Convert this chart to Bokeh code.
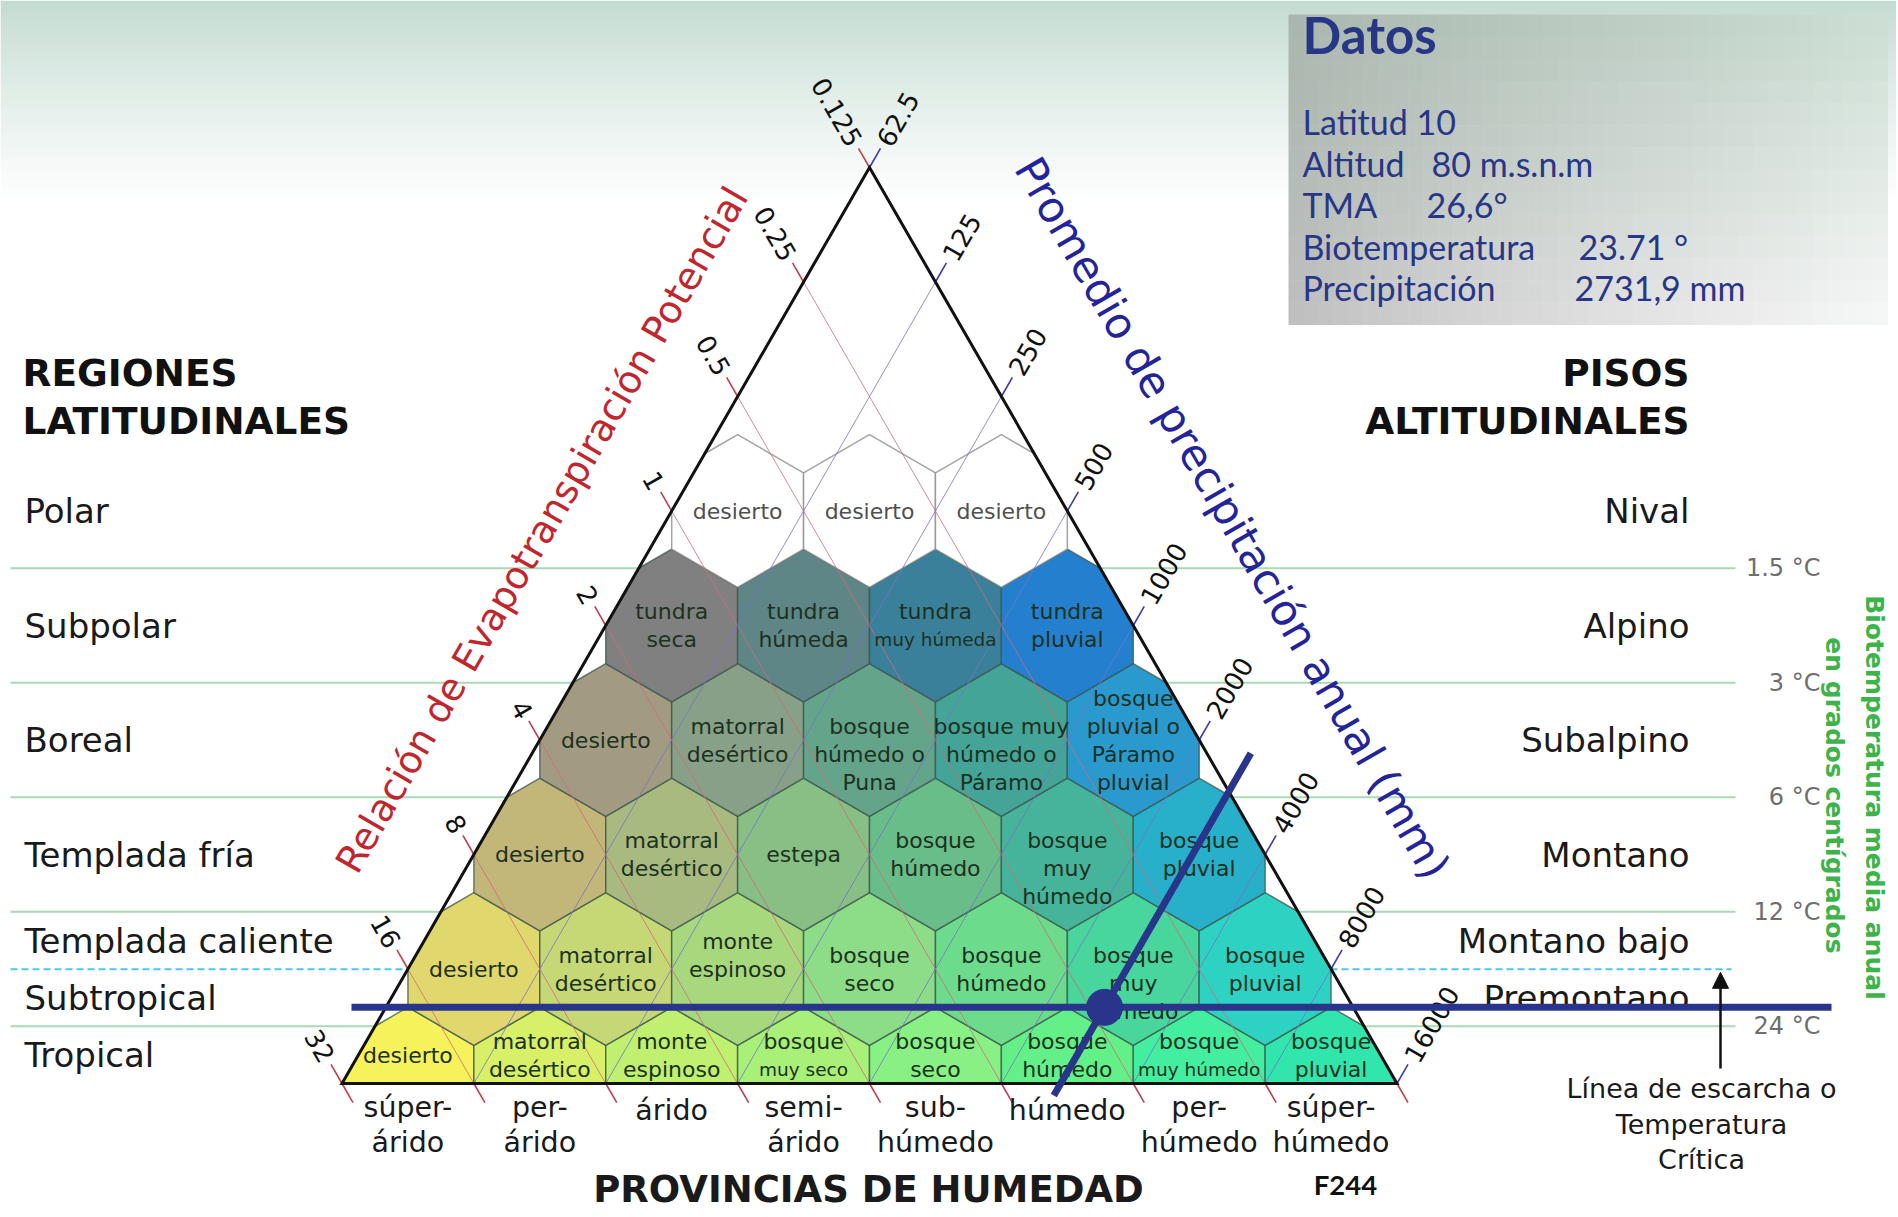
import math
from bokeh.plotting import figure
from bokeh.models import ColumnDataSource, Range1d, Arrow, NormalHead
from bokeh.core.properties import value
from bokeh.embed import file_html
from bokeh.resources import INLINE

# ------------------------------------------------------------------ DATA
precipitacion_ticks = [62.5, 125, 250, 500, 1000, 2000, 4000, 8000, 16000]
precipitacion_etiquetas = ["62.5", "125", "250", "500", "1000", "2000", "4000", "8000", "16000"]
etp_ticks = [0.125, 0.25, 0.5, 1, 2, 4, 8, 16, 32]
etp_etiquetas = ["0.125", "0.25", "0.5", "1", "2", "4", "8", "16", "32"]
biotemp_lineas = [1.5, 3, 6, 12, 24]
biotemp_etiquetas = ["1.5 °C", "3 °C", "6 °C", "12 °C", "24 °C"]
temp_critica = 17.0

provincias = ["súper-\nárido", "per-\nárido", "árido", "semi-\nárido",
              "sub-\nhúmedo", "húmedo", "per-\nhúmedo", "súper-\nhúmedo"]

regiones = ["Polar", "Subpolar", "Boreal", "Templada fría",
            "Templada caliente", "Subtropical", "Tropical"]
pisos = ["Nival", "Alpino", "Subalpino", "Montano", "Montano bajo", "Premontano", ""]
limites_bandas = [0.75, 1.5, 3, 6, 12, 17, 24, 34]

# zonas de vida, de la fila inferior (tropical) a la superior (polar)
zonas_tropical = ["desierto", "matorral\ndesértico", "monte\nespinoso", "bosque\nmuy seco",
                  "bosque\nseco", "bosque\nhúmedo", "bosque\nmuy húmedo", "bosque\npluvial"]
colores_tropical = ["#f6f25c", "#d8f068", "#bff070", "#a8f078", "#88f084", "#64f088", "#44eea0", "#30e6ac"]
zonas_subtropical = ["desierto", "matorral\ndesértico", "monte\nespinoso", "bosque\nseco",
                     "bosque\nhúmedo", "bosque\nmuy\nhúmedo", "bosque\npluvial"]
colores_subtropical = ["#e0d86c", "#c6d876", "#a8d87e", "#8cdc88", "#6cdc8c", "#48d69c", "#2ed2c2"]
zonas_templada = ["desierto", "matorral\ndesértico", "estepa", "bosque\nhúmedo",
                  "bosque\nmuy\nhúmedo", "bosque\npluvial"]
colores_templada = ["#c2b678", "#a8ba80", "#88bf84", "#68bd88", "#46b49a", "#28b0ca"]
zonas_boreal = ["desierto", "matorral\ndesértico", "bosque\nhúmedo o\nPuna",
                "bosque muy\nhúmedo o\nPáramo", "bosque\npluvial o\nPáramo\npluvial"]
colores_boreal = ["#a29b82", "#88a088", "#64a48a", "#44a498", "#2a9ace"]
zonas_subpolar = ["tundra\nseca", "tundra\nhúmeda", "tundra\nmuy húmeda", "tundra\npluvial"]
colores_subpolar = ["#808080", "#5e8686", "#3a809a", "#2480ce"]
zonas_polar = ["desierto", "desierto", "desierto"]
colores_polar = ["#ffffff", "#ffffff", "#ffffff"]

filas = [(zonas_tropical, colores_tropical), (zonas_subtropical, colores_subtropical),
         (zonas_templada, colores_templada), (zonas_boreal, colores_boreal),
         (zonas_subpolar, colores_subpolar), (zonas_polar, colores_polar)]

datos_titulo = "Datos"
datos_etiquetas = ["Latitud 10", "Altitud", "TMA", "Biotemperatura", "Precipitación"]
datos_valores = ["", "80 m.s.n.m", "26,6°", "23.71 °", "2731,9 mm"]

punto_precipitacion = 2731.9
punto_biotemperatura = 21.4   # posición del trazo horizontal

# ------------------------------------------------------------------ GEOMETRY
W_FIG, H_FIG = 1896, 1215
H_PAGE = 1217
APEX_X, APEX_Y = 869.0, 1050.0
UX = 131.875          # horizontal size of one log2 unit
UY = 114.5            # vertical size of one log2 unit
P0, R0 = 62.5, 0.125
PET_FACTOR = 58.93


def Y(ypix):
    return H_PAGE - ypix


def pos(P, R):
    a = math.log2(P / P0)
    b = math.log2(R / R0)
    return APEX_X + (a - b) * UX / 2.0, APEX_Y - (a + b) * UY


def y_T(T):
    s = math.log2(PET_FACTOR * T / (P0 * R0))
    return APEX_Y - s * UY


def pos_PT(P, T):
    a = math.log2(P / P0)
    s = math.log2(PET_FACTOR * T / (P0 * R0))
    return APEX_X + (2 * a - s) * UX / 2.0, APEX_Y - s * UY


BL = pos(P0, etp_ticks[-1])
BR = pos(precipitacion_ticks[-1], R0)
AP = pos(P0, R0)
TRI = [BL, BR, AP]


def clip(poly, tri):
    out = list(poly)
    for i in range(3):
        A = tri[i]
        B = tri[(i + 1) % 3]
        inp = out
        out = []
        if not inp:
            break

        def inside(p):
            return (B[0] - A[0]) * (p[1] - A[1]) - (B[1] - A[1]) * (p[0] - A[0]) >= -1e-9

        def inter(p, q):
            x1, y1 = p
            x2, y2 = q
            x3, y3 = A
            x4, y4 = B
            den = (x1 - x2) * (y3 - y4) - (y1 - y2) * (x3 - x4)
            t = ((x1 - x3) * (y3 - y4) - (y1 - y3) * (x3 - x4)) / den
            return (x1 + t * (x2 - x1), y1 + t * (y2 - y1))

        for k in range(len(inp)):
            cur = inp[k]
            prev = inp[k - 1]
            if inside(cur):
                if not inside(prev):
                    out.append(inter(prev, cur))
                out.append(cur)
            elif inside(prev):
                out.append(inter(prev, cur))
    return out


def hexcol(c):
    c = c.lstrip("#")
    return [int(c[i:i + 2], 16) for i in (0, 2, 4)]


def mix(c1, c2, t):
    a, b = hexcol(c1), hexcol(c2)
    return "#%02x%02x%02x" % tuple(int(round(a[i] + (b[i] - a[i]) * t)) for i in range(3))


# ------------------------------------------------------------------ FIGURE
p = figure(width=W_FIG, height=H_FIG, output_backend="svg", toolbar_location=None,
           x_range=Range1d(0, W_FIG), y_range=Range1d(Y(H_FIG), Y(0)),
           x_axis_type=None, y_axis_type=None, min_border=0)
p.grid.visible = False
p.outline_line_color = None
p.background_fill_color = "white"
p.border_fill_color = "white"

DV = value("DejaVu Sans")
LATO = value("Lato")


def txt(xs, ys, texts, size, color, font=DV, align="left", baseline="middle",
        angle=0.0, style="normal", alpha=1.0):
    n_ = len(texts)
    cols = color if isinstance(color, list) else [color] * n_
    sizes = size if isinstance(size, list) else [size] * n_
    src = ColumnDataSource(dict(x=xs, y=ys, t=texts, c=cols, s=sizes))
    p.text(x="x", y="y", text="t", source=src, text_font=font, text_font_size="s",
           text_color="c", text_align=align, text_baseline=baseline, angle=angle,
           text_font_style=style, text_alpha=alpha)


# background gradient at the top
n = 50
gl, gr, gt, gb, gc = [], [], [], [], []
for i in range(n):
    y0 = i * 200.0 / n
    y1 = (i + 1) * 200.0 / n
    gl.append(0)
    gr.append(W_FIG)
    gt.append(Y(y0))
    gb.append(Y(y1) - 0.5)
    t = (i + 0.5) / n
    gc.append(mix("#c3dbd1", "#ffffff", t ** 0.9))
p.quad(left=gl, right=gr, top=gt, bottom=gb, fill_color=gc, line_color=None)

# Datos box (bilinear gradient)
bx0, bx1, by0, by1 = 1288, 1887, 14, 324
nx, ny = 40, 14
ql, qr, qt, qb, qc = [], [], [], [], []
for i in range(nx):
    for j in range(ny):
        u = (i + 0.5) / nx
        v = (j + 0.5) / ny
        top = mix("#a9b7ae", "#cbddd3", u)
        bot = mix("#bdbdbd", "#f8f8f8", u ** 0.8)
        qc.append(mix(top, bot, v))
        ql.append(bx0 + (bx1 - bx0) * i / nx)
        qr.append(bx0 + (bx1 - bx0) * (i + 1) / nx + 0.5)
        qt.append(Y(by0 + (by1 - by0) * j / ny))
        qb.append(Y(by0 + (by1 - by0) * (j + 1) / ny + 0.5))
p.quad(left=ql, right=qr, top=qt, bottom=qb, fill_color=qc, line_color=None)

NAVY_T = "#283686"
txt([1302], [Y(34)], [datos_titulo], "51px", NAVY_T, font=LATO, style="bold")
dy = [Y(121 + 41.5 * i) for i in range(len(datos_etiquetas))]
txt([1302] * len(datos_etiquetas), dy, datos_etiquetas, "34px", NAVY_T, font=LATO)
vx = [1302, 1431, 1426, 1578, 1574]
txt(vx[1:], dy[1:], datos_valores[1:], "34px", NAVY_T, font=LATO)

# biotemperature guide lines
ly = [y_T(t) for t in biotemp_lineas]
p.segment(x0=[10] * len(ly), y0=ly, x1=[1735] * len(ly), y1=ly, line_color="#a9d9b5", line_width=2)
txt([1820] * len(ly), ly, biotemp_etiquetas, "24px", "#6e6e6e", align="right")
yc = y_T(temp_critica)
p.segment(x0=[10], y0=[yc], x1=[1731], y1=[yc], line_color="#52c4ee", line_width=2, line_dash="7 4")

# triangle background
p.patch(x=[q[0] for q in TRI], y=[q[1] for q in TRI], fill_color="white", line_color=None)

# hexagons
hs = UY / 1.5
hw = UX / 2.0
hxs, hys, hfc, hlc = [], [], [], []
lab_x, lab_y, lab_t, lab_c, lab_s = [], [], [], [], []
LH = 28.0
for r, (zonas, cols) in enumerate(filas):
    for j, (z, c) in enumerate(zip(zonas, cols)):
        cx, cy = pos(P0 * 2 ** (j + 0.5), R0 * 2 ** (7.5 - r - j))
        verts = [(cx, cy + hs), (cx + hw, cy + hs / 2), (cx + hw, cy - hs / 2),
                 (cx, cy - hs), (cx - hw, cy - hs / 2), (cx - hw, cy + hs / 2)]
        poly = clip(verts, TRI)
        hxs.append([q[0] for q in poly])
        hys.append([q[1] for q in poly])
        hfc.append(c)
        hlc.append("#858585" if r == 5 else "#3b564c")
        lines = z.split("\n")
        nl = len(lines)
        if r == 0:
            base = cy + 28 + (nl - 1) / 2.0 * LH
        elif z == "monte\nespinoso":
            base = cy + LH
        elif nl == 1:
            base = cy
        elif nl in (2, 3):
            base = cy + 0.5 * LH
        else:
            base = cy + 1.5 * LH
        for k, ln in enumerate(lines):
            lab_x.append(cx)
            lab_y.append(base - k * LH)
            lab_t.append(ln)
            lab_c.append("#505050" if r == 5 else "#1d3121")
            lab_s.append("18.5px" if ln.startswith("muy ") else "22px")
p.patches(xs=hxs, ys=hys, fill_color=hfc, line_color=hlc, line_width=1.5, line_alpha=0.75)

# PET ratio lines (red) and precipitation lines (blue)
TICK = 22.0
ul = (-0.5, 0.866)   # up-left
dr = (0.5, -0.866)   # down-right
ur = (0.5, 0.866)    # up-right
rx0, ry0, rx1, ry1 = [], [], [], []
tx0, ty0, tx1, ty1 = [], [], [], []
lx, lyy = [], []
for R in etp_ticks:
    sx, sy = pos(P0, R)
    b = math.log2(R / R0)
    ex, ey = pos(P0 * 2 ** (8 - b), R)
    rx0.append(sx); ry0.append(sy); rx1.append(ex); ry1.append(ey)
    tx0 += [sx + TICK * ul[0], ex]
    ty0 += [sy + TICK * ul[1], ey]
    tx1 += [sx, ex + TICK * dr[0]]
    ty1 += [sy, ey + TICK * dr[1]]
    lx.append(sx + 27 * ul[0])
    lyy.append(sy + 27 * ul[1])
p.segment(x0=rx0, y0=ry0, x1=rx1, y1=ry1, line_color="#cf6b78", line_width=1, line_alpha=0.8)
p.segment(x0=tx0, y0=ty0, x1=tx1, y1=ty1, line_color="#c0404f", line_width=1.6)

bx0s, by0s, bx1s, by1s = [], [], [], []
btx0, bty0, btx1, bty1 = [], [], [], []
rlx, rly = [], []
for P in precipitacion_ticks:
    sx, sy = pos(P, R0)
    a = math.log2(P / P0)
    ex, ey = pos(P, R0 * 2 ** (8 - a))
    bx0s.append(sx); by0s.append(sy); bx1s.append(ex); by1s.append(ey)
    btx0.append(sx); bty0.append(sy)
    btx1.append(sx + TICK * ur[0]); bty1.append(sy + TICK * ur[1])
    rlx.append(sx + 27 * ur[0])
    rly.append(sy + 27 * ur[1])
p.segment(x0=bx0s, y0=by0s, x1=bx1s, y1=by1s, line_color="#7474c8", line_width=1, line_alpha=0.8)
p.segment(x0=btx0, y0=bty0, x1=btx1, y1=bty1, line_color="#3a3ab4", line_width=1.6)

# triangle outline
p.patch(x=[q[0] for q in TRI], y=[q[1] for q in TRI], fill_color=None, line_color="#111111",
        line_width=3, line_join="miter")

# hex labels
txt(lab_x, lab_y, lab_t, lab_s, lab_c, align="center")

# tick labels
txt(lx, lyy, etp_etiquetas, "26px", "#111111", align="right", angle=-math.pi / 3)
txt(rlx, rly, precipitacion_etiquetas, "26px", "#111111", align="left", angle=math.pi / 3)

# axis titles
txt([541.5], [Y(529.5)], ["Relación de Evapotranspiración Potencial"], "38px", "#c1262f",
    align="center", angle=math.pi / 3)
txt([1232], [Y(517.5)], ["Promedio de precipitación anual (mm)"], "43px", "#23239a",
    align="center", angle=-math.pi / 3)

# humidity provinces
px_, py_, pt_ = [], [], []
for j, pr in enumerate(provincias):
    cx, _ = pos(P0 * 2 ** (j + 0.5), R0 * 2 ** (7.5 - j))
    parts = pr.split("\n")
    for k, ln in enumerate(parts):
        px_.append(cx)
        py_.append(Y(1110) if len(parts) == 1 else Y(1107 + 35 * k))
        pt_.append(ln)
txt(px_, py_, pt_, "28.5px", "#1a1a1a", align="center")
txt([868], [Y(1189)], ["PROVINCIAS DE HUMEDAD"], "37px", "#1a1a1a", align="center", style="bold")
txt([1345], [Y(1184)], ["F244"], "27.5px", "#111111", font=LATO, align="center", style="bold")

# latitudinal regions and altitudinal belts
ry = [y_T(math.sqrt(limites_bandas[i] * limites_bandas[i + 1])) for i in range(len(regiones))]
txt([24] * len(regiones), ry, regiones, "34px", "#1a1a1a")
txt([1689] * len(pisos), ry, pisos, "34px", "#1a1a1a", align="right")
txt([22, 22], [Y(372), Y(420)], ["REGIONES", "LATITUDINALES"], "37.5px", "#111111", style="bold")
txt([1689, 1689], [Y(372), Y(420)], ["PISOS", "ALTITUDINALES"], "37.5px", "#111111",
    align="right", style="bold")

# biotemperature axis title (vertical)
txt([1874], [Y(797)], ["Biotemperatura media anual"], "25px", "#3cb44b", align="center",
    angle=-math.pi / 2, style="bold")
txt([1834], [Y(795)], ["en grados centígrados"], "25px", "#3cb44b", align="center",
    angle=-math.pi / 2, style="bold")

# frost line arrow
p.add_layout(Arrow(end=NormalHead(size=16, fill_color="#111111", line_color="#111111"),
                   x_start=1720, y_start=Y(1068), x_end=1720, y_end=yc - 3,
                   line_color="#111111", line_width=2.5))
txt([1701, 1701, 1701], [Y(1088), Y(1124), Y(1159)],
    ["Línea de escarcha o", "Temperatura", "Crítica"], "27px", "#1a1a1a", align="center")

# study point
NAVY = "#29358a"
mx, my = pos_PT(punto_precipitacion, punto_biotemperatura)
p.segment(x0=[351], y0=[my], x1=[1831], y1=[my], line_color=NAVY, line_width=7)
d0 = pos_PT(punto_precipitacion, 4.6)
d1 = pos_PT(punto_precipitacion, 36.5)
p.segment(x0=[d0[0]], y0=[d0[1]], x1=[d1[0]], y1=[d1[1]], line_color=NAVY, line_width=7)
p.scatter(x=[mx], y=[my], size=36, marker="circle", fill_color=NAVY, line_color=NAVY)

open("out.html", "w").write(file_html(p, INLINE))
